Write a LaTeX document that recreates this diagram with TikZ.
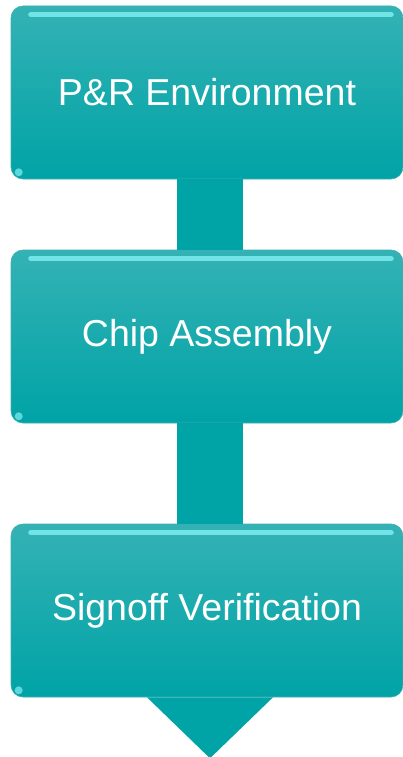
\documentclass[tikz,border=0pt]{standalone}
\usepackage{fontspec}
\setmainfont{Liberation Sans}
\definecolor{tealtop}{RGB}{52,178,181}
\definecolor{tealmid}{RGB}{10,169,172}
\definecolor{tealbot}{RGB}{0,163,166}
\definecolor{tealbar}{RGB}{0,164,167}
\definecolor{tealglow}{RGB}{130,240,244}
\definecolor{tealedge}{RGB}{60,175,178}
\tikzset{
    stage/.style={rounded corners=12pt, minimum width=392pt, minimum height=173pt,
        top color=tealtop, middle color=tealmid, bottom color=tealbot,
        draw=tealedge, line width=0.6pt, text=white,
        font=\fontsize{37.5}{40}\selectfont},
    linkbar/.style={fill=tealbar},
    glow/.style={tealglow, line width=5pt, line cap=round, opacity=0.8}
}
\begin{document}
\begin{tikzpicture}[x=1pt,y=-1pt]

    % Fix the page to the size of the reference
    \useasboundingbox (0,0) rectangle (403,757);

    % The three stages, stacked top to bottom
    \node[stage] (env)  at (207,92.5)  {P\&R Environment};
    \node[stage] (chip) at (207,336.5) {Chip Assembly};
    \node[stage] (sign) at (207,610.5) {Signoff Verification};

    % Glossy stripe along the top of each stage
    \foreach \s in {env,chip,sign} {
        \draw[glow] ([shift={(20pt,-9pt)}]\s.north west) -- ([shift={(-12pt,-9pt)}]\s.north east);
        \fill[tealglow, opacity=0.7] ([shift={(8pt,7pt)}]\s.south west) circle (4pt);
    }

    % Thick bars linking one stage to the next
    \fill[linkbar] ([xshift=-30pt]env.south) rectangle ([xshift=36pt]chip.north);
    \fill[linkbar] ([xshift=-30pt]chip.south) rectangle ([xshift=36pt]sign.north);

    % Arrow head below the last stage
    \coordinate (tip) at ([shift={(3pt,-61pt)}]sign.south);
    \fill[linkbar] ([xshift=-60pt]sign.south) -- ([xshift=66pt]sign.south) -- (tip) -- cycle;

\end{tikzpicture}
\end{document}
